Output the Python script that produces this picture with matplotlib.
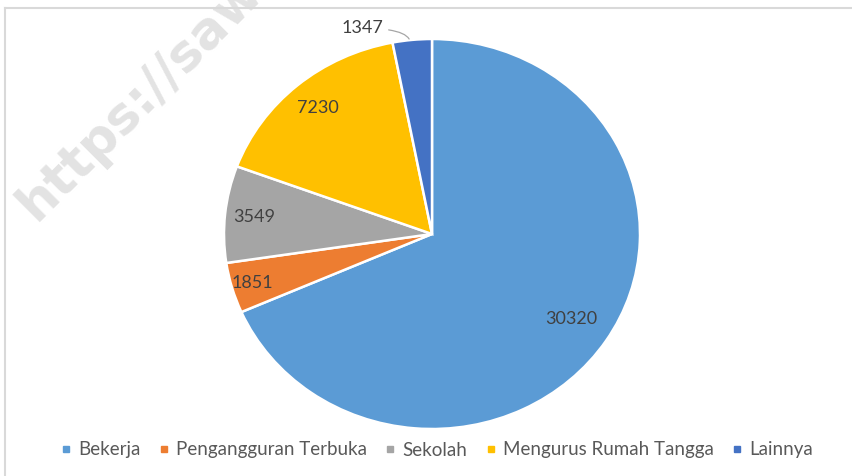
import matplotlib.pyplot as plt
from matplotlib.lines import Line2D
import numpy as np

# Data
kategori = ['Bekerja', 'Pengangguran Terbuka', 'Sekolah', 'Mengurus Rumah Tangga', 'Lainnya']
nilai = [30320, 1851, 3549, 7230, 1347]
warna = ['#5B9BD5', '#ED7D31', '#A5A5A5', '#FFC000', '#4472C4']

plt.rcParams['font.family'] = ['Lato', 'DejaVu Sans']

W, H = 852, 476
fig = plt.figure(figsize=(W / 100, H / 100), dpi=100)

# Borde del área del gráfico (solo arriba e izquierda visibles)
fig.add_artist(Line2D([5 / W, 5 / W], [0, 1 - 8 / H], color='#D9D9D9', lw=1.5))
fig.add_artist(Line2D([5 / W, 1], [1 - 8 / H, 1 - 8 / H], color='#D9D9D9', lw=1.5))

# Marca de agua
fig.text(36 / W, 1 - 222 / H, 'https://sawa', rotation=45, rotation_mode='anchor',
         ha='left', va='baseline', fontsize=37, fontweight='bold', color='#E3E3E3',
         family='DejaVu Sans', zorder=0)

# Pie
cx, cy, rx, ry = 432, 234, 208, 195
ax = fig.add_axes([(cx - rx) / W, 1 - (cy + ry) / H, 2 * rx / W, 2 * ry / H])
wedges, _ = ax.pie(nilai, colors=warna, startangle=90, counterclock=False,
                   wedgeprops=dict(edgecolor='white', linewidth=1.8))
ax.set_aspect('auto')
ax.set_xlim(-1, 1)
ax.set_ylim(-1, 1)
ax.axis('off')

# Etiquetas de datos
dist = [0.80, 0.90, 0.86, 0.85]
for w, v, d in zip(wedges[:4], nilai[:4], dist):
    ang = np.deg2rad((w.theta1 + w.theta2) / 2)
    ax.text(d * np.cos(ang), d * np.sin(ang), str(v), ha='center', va='center',
            fontsize=13, color='#404040')

# Etiqueta con línea guía para "Lainnya"
ax.annotate(str(nilai[4]), xy=(-0.11, 1.0), xytext=(-0.235, 1.055),
            ha='right', va='center', fontsize=13, color='#404040',
            arrowprops=dict(arrowstyle='-', color='#A6A6A6', lw=0.9,
                            connectionstyle='angle3,angleA=0,angleB=-60',
                            shrinkA=2, shrinkB=0))

# Leyenda
handles = [Line2D([], [], marker='s', linestyle='none', markersize=5,
                  markerfacecolor=c, markeredgecolor=c) for c in warna]
fig.legend(handles, kategori, loc='center', bbox_to_anchor=(437 / W, 1 - 450 / H),
           ncol=5, frameon=False, fontsize=13.5, labelcolor='#595959',
           handlelength=0.5, handletextpad=0.4, columnspacing=1.0)

plt.savefig('out.png', dpi=100)
